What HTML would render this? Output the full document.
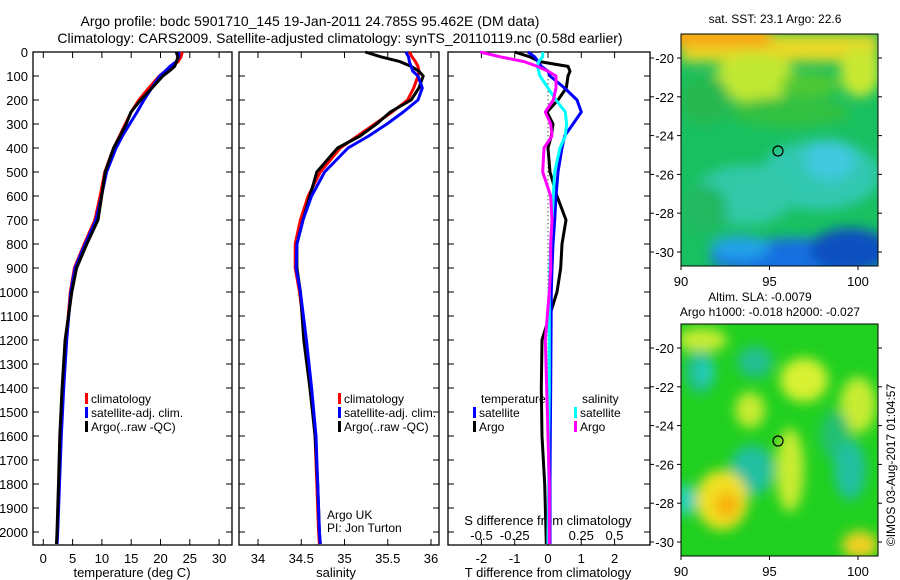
<!DOCTYPE html>
<html><head><meta charset="utf-8"><style>
body{margin:0;background:#fff}
svg{display:block;font-family:"Liberation Sans",sans-serif}
</style></head><body>
<svg id="c" width="900" height="580" viewBox="0 0 900 580" xmlns="http://www.w3.org/2000/svg">
<defs>
<filter id="b1" x="-20%" y="-20%" width="140%" height="140%"><feGaussianBlur stdDeviation="6"/></filter>
<filter id="b2" x="-20%" y="-20%" width="140%" height="140%"><feGaussianBlur stdDeviation="6"/></filter>
<clipPath id="cm1"><rect x="681" y="34" width="197" height="232"/></clipPath>
<clipPath id="cm2"><rect x="681" y="324" width="197" height="232"/></clipPath>
</defs>
<text x="310" y="26" font-size="14" text-anchor="middle">Argo profile: bodc 5901710_145 19-Jan-2011 24.785S 95.462E (DM data)</text>
<text x="340" y="43" font-size="14" text-anchor="middle">Climatology: CARS2009. Satellite-adjusted climatology: synTS_20110119.nc (0.58d earlier)</text>
<g id="plots"></g>
<!-- maps -->
<g clip-path="url(#cm1)">
<rect x="681" y="34" width="197" height="232" fill="#19c060"/>
<g filter="url(#b1)">
<rect x="681" y="34" width="197" height="28" fill="#e8d828"/>
<rect x="660" y="25" width="110" height="22" fill="#f8a818"/>
<ellipse cx="755" cy="78" rx="40" ry="25" fill="#c0e830"/>
<ellipse cx="860" cy="72" rx="20" ry="25" fill="#c8e830"/>
<ellipse cx="810" cy="85" rx="30" ry="12" fill="#50c830"/>
<ellipse cx="705" cy="100" rx="25" ry="25" fill="#28b850"/>
<ellipse cx="790" cy="112" rx="60" ry="15" fill="#30c040"/>
<ellipse cx="820" cy="175" rx="60" ry="35" fill="#30c8b0"/>
<ellipse cx="745" cy="195" rx="50" ry="30" fill="#30c8a8"/>
<ellipse cx="830" cy="160" rx="25" ry="20" fill="#40c8e0"/>
<ellipse cx="705" cy="210" rx="22" ry="25" fill="#20b860"/>
<ellipse cx="800" cy="258" rx="90" ry="20" fill="#1870e0"/>
<ellipse cx="850" cy="250" rx="40" ry="22" fill="#1050c0"/>
<ellipse cx="740" cy="248" rx="30" ry="12" fill="#20a0e8"/>
</g>
</g>
<g clip-path="url(#cm2)">
<rect x="681" y="324" width="197" height="232" fill="#20d020"/>
<g filter="url(#b2)">
<ellipse cx="702" cy="340" rx="25" ry="12" fill="#c8ec30"/>
<ellipse cx="700" cy="372" rx="15" ry="22" fill="#20c090"/>
<ellipse cx="705" cy="372" rx="8" ry="10" fill="#20d0c0"/>
<ellipse cx="755" cy="362" rx="18" ry="16" fill="#20c090"/>
<ellipse cx="804" cy="380" rx="24" ry="22" fill="#d8f030"/>
<ellipse cx="750" cy="410" rx="15" ry="18" fill="#c8ec30"/>
<ellipse cx="858" cy="405" rx="18" ry="28" fill="#c8ec30"/>
<ellipse cx="835" cy="435" rx="15" ry="25" fill="#20c070"/>
<ellipse cx="752" cy="470" rx="22" ry="25" fill="#20c0a0"/>
<ellipse cx="790" cy="470" rx="14" ry="42" fill="#c8ec30"/>
<ellipse cx="850" cy="470" rx="16" ry="30" fill="#20c0a0"/>
<ellipse cx="722" cy="500" rx="26" ry="30" fill="#f0e020"/>
<ellipse cx="727" cy="505" rx="12" ry="13" fill="#f8b010"/>
<ellipse cx="686" cy="500" rx="10" ry="16" fill="#20d0c0"/>
<ellipse cx="860" cy="545" rx="18" ry="14" fill="#f0d020"/>
</g>
</g>
<g fill="none" stroke="#000" stroke-width="1.2">
<circle cx="778" cy="151" r="5"/>
<circle cx="778" cy="441" r="5"/>
</g>
<text x="775" y="23" font-size="12" text-anchor="middle">sat. SST: 23.1 Argo: 22.6</text>
<text x="760" y="301" font-size="12" text-anchor="middle">Altim. SLA: -0.0079</text>
<text x="770" y="316" font-size="12" text-anchor="middle">Argo h1000: -0.018 h2000: -0.027</text>
<text transform="translate(895,465) rotate(-90)" font-size="12" text-anchor="middle">©IMOS 03-Aug-2017 01:04:57</text>
<g id="maps"></g>
</svg>
<script>
const NS="http://www.w3.org/2000/svg";
const depths=[0,20,40,60,80,100,150,200,250,300,350,400,500,600,700,800,900,1000,1200,1400,1600,1800,2000,2050];
const tempClim=[23.7,23.5,23.0,21.8,20.8,19.8,18.0,16.3,15.0,14.0,13.0,12.0,10.5,9.7,8.8,7.0,5.3,4.6,3.9,3.4,3.0,2.7,2.4,2.3];
const tempSat=[23.1,23.1,22.7,21.6,20.8,19.86,18.5,17.17,16.0,14.75,13.5,12.42,10.8,9.94,9.0,7.15,5.42,4.7,3.99,3.48,3.07,2.76,2.46,2.36];
const tempArgo=[22.7,22.95,22.75,22.4,21.46,20.4,18.55,16.6,14.97,14.15,13.1,12.0,10.56,9.97,9.34,7.42,5.68,4.87,3.72,3.2,2.82,2.6,2.34,2.25];
const salClim=[35.75,35.78,35.82,35.85,35.86,35.85,35.8,35.73,35.55,35.35,35.15,34.95,34.72,34.58,34.49,34.43,34.43,34.48,34.55,34.61,34.66,34.68,34.7,34.71];
const salSat=[35.71,35.74,35.75,35.77,35.79,35.85,35.9,35.85,35.68,35.49,35.28,35.04,34.77,34.62,34.52,34.45,34.44,34.49,34.56,34.62,34.67,34.69,34.71,34.72];
const salArgo=[35.24,35.42,35.64,35.77,35.86,35.91,35.86,35.77,35.53,35.37,35.18,34.92,34.68,34.6,34.52,34.45,34.45,34.49,34.53,34.6,34.66,34.69,34.71,34.72];
const tDiffSat=[-0.6,-0.4,-0.3,-0.2,0.0,0.06,0.5,0.87,1.0,0.75,0.5,0.42,0.3,0.24,0.2,0.15,0.12,0.1,0.09,0.08,0.07,0.06,0.06,0.06];
const tDiffArgo=[-1.0,-0.55,-0.25,0.6,0.66,0.6,0.55,0.3,-0.03,0.15,0.1,0.0,0.06,0.27,0.54,0.42,0.38,0.27,-0.18,-0.2,-0.18,-0.1,-0.06,-0.05];
const sDiffSat=[-0.04,-0.04,-0.07,-0.08,-0.07,-0.06,0.0,0.06,0.13,0.14,0.13,0.09,0.05,0.04,0.03,0.02,0.015,0.01,0.01,0.01,0.005,0.005,0.0,0.0];
const sDiffArgo=[-0.51,-0.36,-0.18,-0.08,0.0,0.06,0.06,0.04,-0.02,0.02,0.03,-0.03,-0.04,0.02,0.03,0.02,0.02,0.01,-0.02,-0.01,0.0,0.01,0.01,0.01];
const depthTicks=[0,100,200,300,400,500,600,700,800,900,1000,1100,1200,1300,1400,1500,1600,1700,1800,1900,2000];
const tempTicks=[0,5,10,15,20,25,30];
const salTicks=[34,34.5,35,35.5,36];
const tDiffTicks=[-2,-1,0,1,2];
const sDiffTicks=[-0.5,-0.25,0,0.25,0.5];
const sDiffLabels=["-0.5","-0.25","0","0.25","0.5"];
const latTicks=[-20,-22,-24,-26,-28,-30];
const lonTicks=[90,95,100];

const yTop=52,yBot=545;
const yD=d=>yTop+d*0.24;
const xT=t=>43.3+t*5.86;
const xS=s=>258+(s-34)*86.5;
const xTd=t=>548+t*33.3;
const xSd=s=>548+s*133;
const g=document.getElementById('plots');
function el(tag,attrs,parent){const e=document.createElementNS(NS,tag);for(const k in attrs)e.setAttribute(k,attrs[k]);(parent||g).appendChild(e);return e;}
function txt(x,y,s,anchor,size,parent){const t=el('text',{x:x,y:y,'font-size':size||13,'text-anchor':anchor||'middle'},parent);t.textContent=s;return t;}
function line(vals,fx,color,name){const pts=vals.map((v,i)=>fx(v).toFixed(1)+','+yD(depths[i]).toFixed(1)).join(' ');
 const p=el('polyline',{points:pts,fill:'none',stroke:color,'stroke-width':3,'stroke-linejoin':'round'});
 
 }
const panels=[[33,232],[239,439],[448,650]];
panels.forEach((p,i)=>{
 const r=el('rect',{x:p[0],y:yTop,width:p[1]-p[0],height:yBot-yTop,fill:'none',stroke:'#000','stroke-width':1.3});
 
 
 depthTicks.forEach(d=>{el('line',{x1:p[0],x2:p[0]+6,y1:yD(d),y2:yD(d),stroke:'#000'});el('line',{x1:p[1],x2:p[1]-6,y1:yD(d),y2:yD(d),stroke:'#000'});});
});
depthTicks.forEach(d=>{const t=txt(28,yD(d)+5,String(d),'end',13);
 
 });
tempTicks.forEach(v=>{el('line',{x1:xT(v),x2:xT(v),y1:yBot,y2:yBot-6,stroke:'#000'});el('line',{x1:xT(v),x2:xT(v),y1:yTop,y2:yTop+6,stroke:'#000'});
 const t=txt(xT(v),563,String(v));
 
 });
salTicks.forEach(v=>{el('line',{x1:xS(v),x2:xS(v),y1:yBot,y2:yBot-6,stroke:'#000'});el('line',{x1:xS(v),x2:xS(v),y1:yTop,y2:yTop+6,stroke:'#000'});
 const t=txt(xS(v),563,String(v));
 
 });
tDiffTicks.forEach(v=>{el('line',{x1:xTd(v),x2:xTd(v),y1:yBot,y2:yBot-6,stroke:'#000'});el('line',{x1:xTd(v),x2:xTd(v),y1:yTop,y2:yTop+6,stroke:'#000'});
 const t=txt(xTd(v),563,String(v));
 
 });
sDiffTicks.forEach((v,i)=>{const t=txt(xSd(v),540,sDiffLabels[i]);
 
 });
let a;
a=txt(132,577,'temperature (deg C)');
a=txt(336,577,'salinity');
a=txt(548,577,'T difference from climatology');
a=txt(548,525,'S difference from climatology');
const z=el('line',{x1:xTd(0),x2:xTd(0),y1:yD(80),y2:yD(2050),stroke:'#000','stroke-dasharray':'1,3'});


line(tempClim,xT,'#f00','temp-climatology-line');
line(tempSat,xT,'#00f','temp-satellite-line');
line(tempArgo,xT,'#000','temp-argo-line');
line(salClim,xS,'#f00','salinity-climatology-line');
line(salArgo,xS,'#000','salinity-argo-line');
line(salSat,xS,'#00f','salinity-satellite-line');
line(tDiffArgo,xTd,'#000','tdiff-argo-line');
line(tDiffSat,xTd,'#00f','tdiff-satellite-line');
line(sDiffSat,xSd,'#0ff','sdiff-satellite-line');
line(sDiffArgo,xSd,'#f0f','sdiff-argo-line');
function leg(x,y,c,s,name){const r=el('rect',{x:x,y:y-10,width:3,height:11,fill:c});
 
 
 const t=txt(x+6,y,s,'start',12);
 
 }
leg(85,403,'#f00','climatology','temp-legend-climatology');
leg(85,417,'#00f','satellite-adj. clim.','temp-legend-satellite');
leg(85,431,'#000','Argo(..raw -QC)','temp-legend-argo');
leg(338,403,'#f00','climatology','sal-legend-climatology');
leg(338,417,'#00f','satellite-adj. clim.','sal-legend-satellite');
leg(338,431,'#000','Argo(..raw -QC)','sal-legend-argo');
a=txt(481,403,'temperature','start',12);
a=txt(582,403,'salinity','start',12);
leg(473,417,'#00f','satellite','diff-legend-t-satellite');
leg(473,431,'#000','Argo','diff-legend-t-argo');
leg(574,417,'#0ff','satellite','diff-legend-s-satellite');
leg(574,431,'#f0f','Argo','diff-legend-s-argo');
a=txt(327,519,'Argo UK','start',12);
a=txt(327,532,'PI: Jon Turton','start',12);
const mg=document.getElementById('maps');
const lonX=l=>681+(l-90)*17.7;
[[34,266],[324,556]].forEach((m,i)=>{
 const r=el('rect',{x:681,y:m[0],width:197,height:m[1]-m[0],fill:'none',stroke:'#000'},mg);
 
 
 const latY=l=>m[0]+24+(-20-l)*19.4;
 latTicks.forEach(l=>{el('line',{x1:677,x2:681,y1:latY(l),y2:latY(l),stroke:'#000'},mg);el('line',{x1:878,x2:882,y1:latY(l),y2:latY(l),stroke:'#000'},mg);
  el('line',{x1:650,x2:654,y1:latY(l),y2:latY(l),stroke:'#000'},mg);
  const t=txt(674,latY(l)+5,String(l),'end',13,mg);
  
  });
 lonTicks.forEach(l=>{el('line',{x1:lonX(l),x2:lonX(l),y1:m[1],y2:m[1]+4,stroke:'#000'},mg);
  const t=txt(lonX(l),m[1]+20,String(l),'middle',13,mg);
  
  });
});
</script>
</body></html>
